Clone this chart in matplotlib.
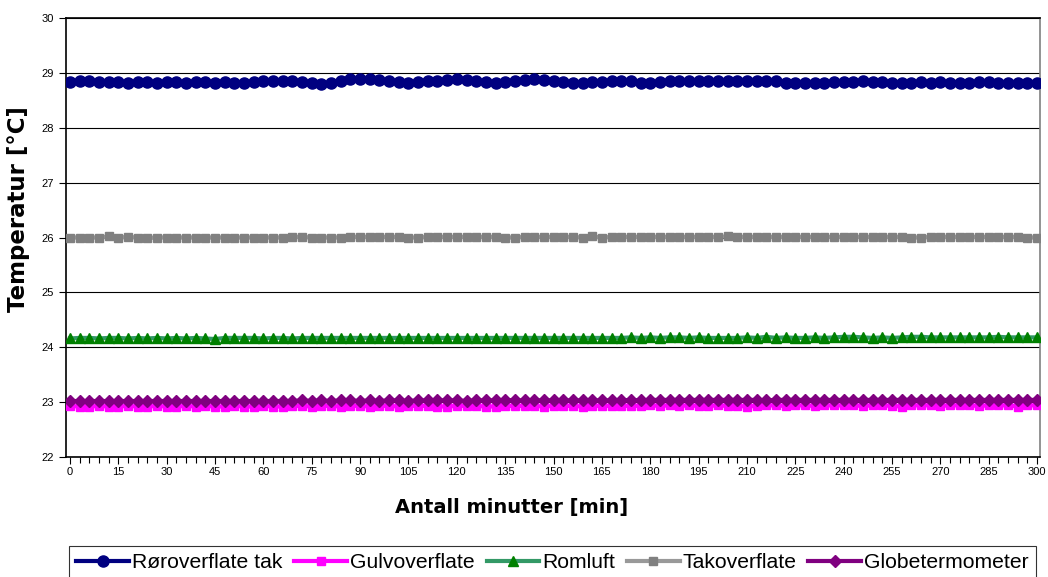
import matplotlib
matplotlib.use("Agg")
import matplotlib.pyplot as plt
from matplotlib.ticker import MultipleLocator
import numpy as np

plt.rcParams['font.family'] = ['Liberation Sans', 'DejaVu Sans']

minutes = np.arange(0, 301, 3)

roroverflate_tak = [
    28.83, 28.85, 28.86, 28.84, 28.83, 28.83, 28.82, 28.83, 28.83, 28.82, 28.83,
    28.83, 28.82, 28.83, 28.83, 28.82, 28.83, 28.82, 28.82, 28.83, 28.86,
    28.86, 28.86, 28.85, 28.83, 28.82, 28.80, 28.81, 28.86, 28.88, 28.88,
    28.88, 28.87, 28.85, 28.84, 28.82, 28.83, 28.85, 28.86, 28.87, 28.88,
    28.87, 28.86, 28.83, 28.82, 28.83, 28.86, 28.87, 28.88, 28.87, 28.86,
    28.84, 28.82, 28.82, 28.83, 28.84, 28.86, 28.86, 28.85, 28.82, 28.82,
    28.84, 28.86, 28.86, 28.85, 28.85, 28.86, 28.86, 28.85, 28.86, 28.86,
    28.86, 28.86, 28.85, 28.82, 28.82, 28.82, 28.82, 28.82, 28.83, 28.83,
    28.84, 28.85, 28.84, 28.83, 28.82, 28.82, 28.82, 28.83, 28.82, 28.83,
    28.82, 28.82, 28.82, 28.83, 28.83, 28.82, 28.82, 28.82, 28.82, 28.82,
]

gulvoverflate = [
    22.93, 22.92, 22.92, 22.93, 22.92, 22.92, 22.93, 22.92, 22.92, 22.93, 22.92,
    22.92, 22.93, 22.92, 22.93, 22.92, 22.92, 22.93, 22.92, 22.92, 22.93,
    22.92, 22.92, 22.93, 22.93, 22.92, 22.93, 22.93, 22.92, 22.93, 22.93,
    22.92, 22.93, 22.93, 22.92, 22.93, 22.93, 22.93, 22.92, 22.92, 22.93,
    22.93, 22.93, 22.92, 22.92, 22.93, 22.93, 22.93, 22.93, 22.92, 22.93,
    22.93, 22.93, 22.92, 22.93, 22.93, 22.93, 22.93, 22.93, 22.93, 22.94,
    22.93, 22.94, 22.93, 22.94, 22.93, 22.93, 22.94, 22.93, 22.93, 22.92,
    22.93, 22.94, 22.94, 22.93, 22.94, 22.94, 22.93, 22.94, 22.94, 22.94,
    22.94, 22.93, 22.94, 22.94, 22.93, 22.92, 22.94, 22.94, 22.94, 22.93,
    22.94, 22.94, 22.94, 22.93, 22.94, 22.94, 22.94, 22.92, 22.94, 22.94,
]

romluft = [
    24.16, 24.17, 24.17, 24.16, 24.17, 24.17, 24.16, 24.17, 24.16, 24.17, 24.16,
    24.17, 24.16, 24.17, 24.16, 24.15, 24.17, 24.17, 24.17, 24.17, 24.16,
    24.17, 24.17, 24.16, 24.17, 24.17, 24.17, 24.17, 24.17, 24.17, 24.17,
    24.17, 24.17, 24.17, 24.17, 24.17, 24.17, 24.17, 24.17, 24.17, 24.17,
    24.17, 24.17, 24.17, 24.17, 24.17, 24.17, 24.17, 24.17, 24.17, 24.17,
    24.17, 24.17, 24.17, 24.17, 24.17, 24.17, 24.17, 24.18, 24.17, 24.18,
    24.17, 24.18, 24.18, 24.17, 24.18, 24.17, 24.17, 24.17, 24.17, 24.18,
    24.17, 24.19, 24.17, 24.18, 24.17, 24.17, 24.18, 24.17, 24.18, 24.19,
    24.19, 24.18, 24.17, 24.18, 24.17, 24.18, 24.19, 24.19, 24.18, 24.18,
    24.18, 24.18, 24.18, 24.18, 24.18, 24.19, 24.18, 24.18, 24.18, 24.18,
]

takoverflate = [
    26.00, 26.00, 26.00, 26.00, 26.02, 26.00, 26.01, 26.00, 25.99, 26.00, 26.00,
    26.00, 26.00, 26.00, 26.00, 26.00, 26.00, 26.00, 26.00, 26.00, 26.00,
    26.00, 26.00, 26.01, 26.01, 26.00, 26.00, 26.00, 26.00, 26.01, 26.01,
    26.01, 26.01, 26.01, 26.01, 26.00, 26.00, 26.01, 26.01, 26.01, 26.01,
    26.01, 26.01, 26.01, 26.01, 26.00, 26.00, 26.01, 26.01, 26.01, 26.01,
    26.01, 26.01, 26.00, 26.02, 26.00, 26.01, 26.01, 26.01, 26.01, 26.01,
    26.01, 26.01, 26.01, 26.01, 26.01, 26.01, 26.01, 26.02, 26.01, 26.01,
    26.01, 26.01, 26.01, 26.01, 26.01, 26.01, 26.01, 26.01, 26.01, 26.01,
    26.01, 26.01, 26.01, 26.01, 26.01, 26.01, 26.00, 26.00, 26.01, 26.01,
    26.01, 26.01, 26.01, 26.01, 26.01, 26.01, 26.01, 26.01, 26.00, 26.00,
]

globetermometer = [
    23.02, 23.02, 23.02, 23.02, 23.02, 23.02, 23.02, 23.02, 23.02, 23.02, 23.02,
    23.02, 23.02, 23.02, 23.02, 23.02, 23.02, 23.02, 23.02, 23.02, 23.02,
    23.02, 23.02, 23.02, 23.03, 23.02, 23.03, 23.02, 23.03, 23.03, 23.02,
    23.03, 23.02, 23.03, 23.03, 23.02, 23.03, 23.03, 23.03, 23.03, 23.03,
    23.02, 23.03, 23.03, 23.03, 23.04, 23.03, 23.03, 23.03, 23.03, 23.03,
    23.03, 23.03, 23.03, 23.03, 23.03, 23.03, 23.03, 23.04, 23.03, 23.04,
    23.04, 23.04, 23.04, 23.04, 23.04, 23.04, 23.04, 23.04, 23.04, 23.04,
    23.04, 23.03, 23.04, 23.04, 23.04, 23.04, 23.04, 23.04, 23.04, 23.04,
    23.04, 23.04, 23.04, 23.04, 23.04, 23.04, 23.04, 23.04, 23.04, 23.04,
    23.04, 23.04, 23.04, 23.04, 23.04, 23.04, 23.04, 23.04, 23.04, 23.04,
]

fig = plt.figure(figsize=(10.48, 5.77), dpi=100)
ax = fig.add_axes([66/1048, 1 - 457/577, (1040-66)/1048, (457-18)/577])

lw = 3.0
ax.plot(minutes, roroverflate_tak, color='#000080', lw=lw, marker='o', ms=8,
        label='Røroverflate tak', zorder=3)
ax.plot(minutes, gulvoverflate, color='#FF00FF', lw=lw, marker='s', ms=6,
        label='Gulvoverflate', zorder=3)
ax.plot(minutes, romluft, color='#339966', lw=lw, marker='^', ms=7.5,
        mfc='#008000', mec='#008000', label='Romluft', zorder=3)
ax.plot(minutes, takoverflate, color='#999999', lw=lw, marker='s', ms=5.5,
        mfc='#808080', mec='#808080', label='Takoverflate', zorder=3)
ax.plot(minutes, globetermometer, color='#800080', lw=lw, marker='D', ms=6.5,
        label='Globetermometer', zorder=3)

ax.set_xlim(-1.24, 300.9)
ax.set_ylim(22, 30)
ax.xaxis.set_major_locator(MultipleLocator(15))
ax.xaxis.set_minor_locator(MultipleLocator(3))
ax.yaxis.set_major_locator(MultipleLocator(1))
ax.grid(axis='y', color='#000000', lw=0.8, zorder=1)
ax.tick_params(axis='both', which='major', direction='out', length=5, width=0.8,
               labelsize=8, colors='black')
ax.tick_params(axis='x', which='minor', direction='out', length=4, width=0.8)
ax.tick_params(axis='x', pad=2)

for side in ['left', 'bottom', 'top']:
    ax.spines[side].set_color('black')
    ax.spines[side].set_linewidth(1.2)
ax.spines['right'].set_color('#808080')
ax.spines['right'].set_linewidth(1.2)

# axis titles placed where they sit in the original (wide bold face)
fig.text(512/1048, 1 - 508/577, 'Antall minutter [min]', fontsize=14,
         fontweight='bold', family='DejaVu Sans', ha='center', va='center')
fig.text(19/1048, 1 - 209/577, 'Temperatur [°C]', fontsize=16.5,
         fontweight='bold', family='DejaVu Sans', ha='center', va='center',
         rotation=90)

leg = fig.legend(loc='upper left', bbox_to_anchor=(69/1048, 1 - 546/577),
                 ncol=5, fontsize=15.2, handlelength=2.5, handletextpad=0.15,
                 columnspacing=0.55, frameon=True, fancybox=False,
                 borderpad=0.35, borderaxespad=0)
leg.get_frame().set_edgecolor('#000000')
leg.get_frame().set_linewidth(0.8)

fig.savefig('out.png', dpi=100)
